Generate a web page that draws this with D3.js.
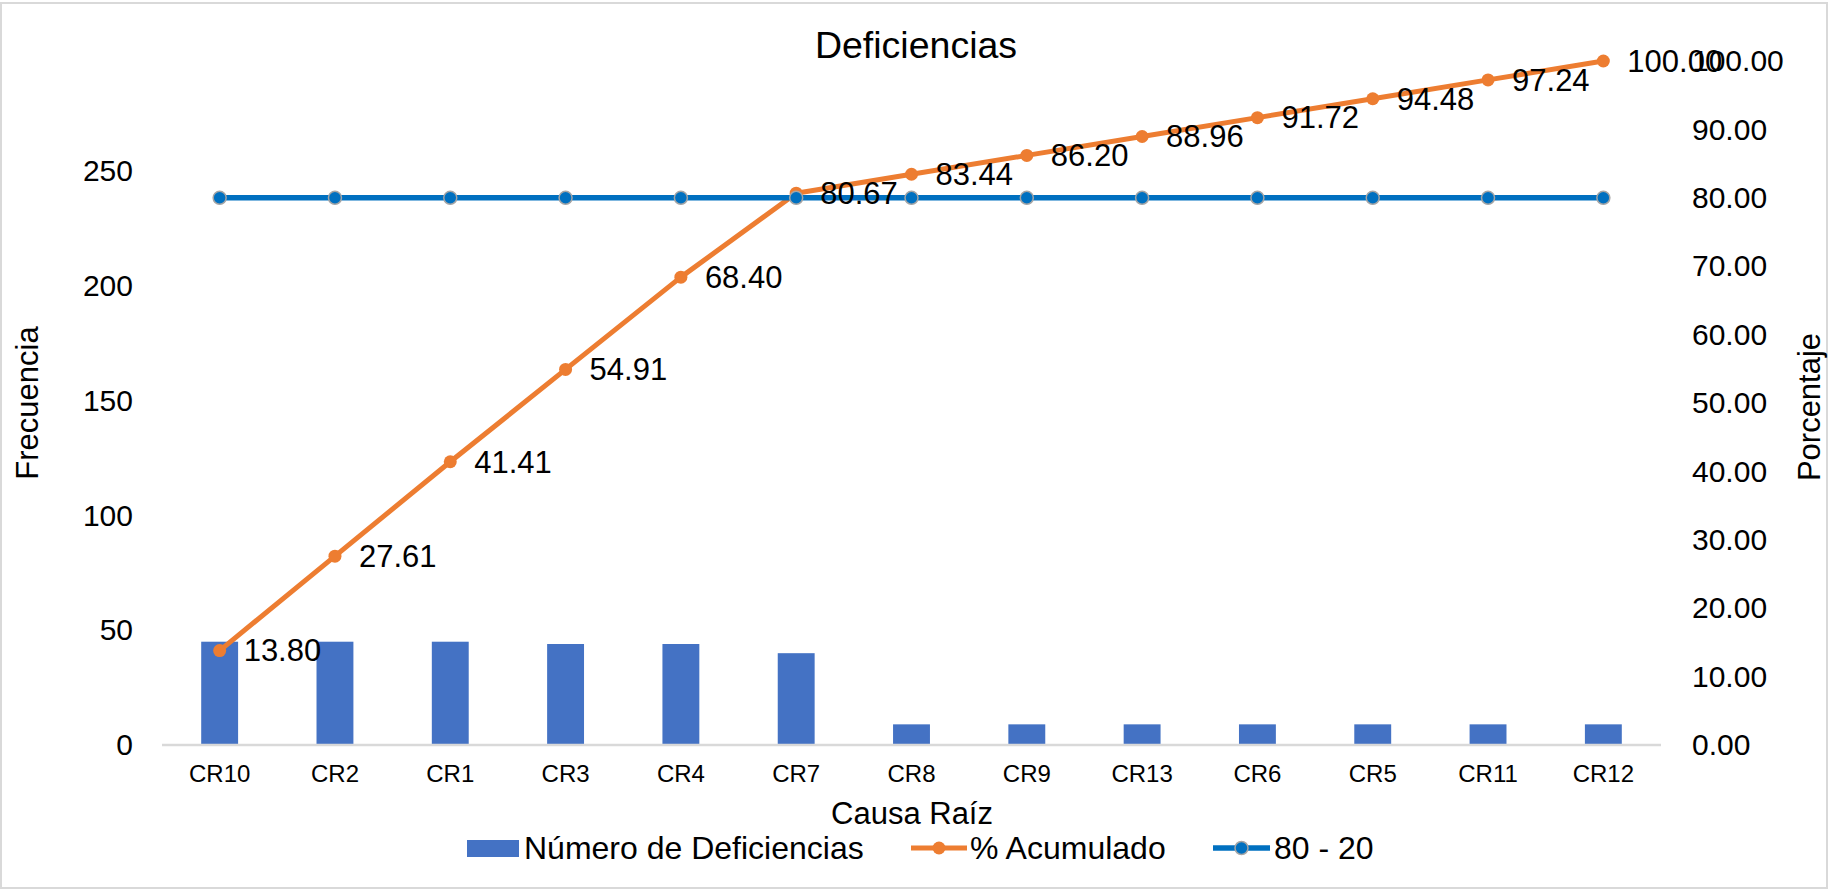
<!DOCTYPE html>
<html>
<head>
<meta charset="utf-8">
<script src="https://cdn.jsdelivr.net/npm/d3@7"></script>
<style>
  html, body { margin: 0; padding: 0; background: #fff; }
  svg { display: block; font-family: "Liberation Sans", Arial, sans-serif; }
</style>
</head>
<body>
<svg id="chart" width="1829" height="890"></svg>
<script>
// Pareto data: root causes sorted by number of deficiencies
const categories = ["CR10", "CR2", "CR1", "CR3", "CR4", "CR7", "CR8", "CR9", "CR13", "CR6", "CR5", "CR11", "CR12"];
const deficiencias = [45, 45, 45, 44, 44, 40, 9, 9, 9, 9, 9, 9, 9];
const acumulado = [13.80, 27.61, 41.41, 54.91, 68.40, 80.67, 83.44, 86.20, 88.96, 91.72, 94.48, 97.24, 100.00];
const linea8020 = [80, 80, 80, 80, 80, 80, 80, 80, 80, 80, 80, 80, 80];
const leftTicks = [0, 50, 100, 150, 200, 250];
const rightTicks = [0, 10, 20, 30, 40, 50, 60, 70, 80, 90, 100];

const svg = d3.select("#chart");
const W = 1829, H = 890;
const plot = { left: 162, right: 1661, top: 61, bottom: 745 };

const colors = { bar: "#4472C4", cum: "#ED7D31", ref: "#0070C0", refEdge: "#A5A5A5", axis: "#D9D9D9" };

// Chart frame
svg.append("rect")
  .attr("x", 1).attr("y", 3).attr("width", W - 3).attr("height", H - 5)
  .attr("fill", "#fff").attr("stroke", colors.axis).attr("stroke-width", 2);

const x = d3.scaleBand().domain(categories).range([plot.left, plot.right]).paddingInner(0.68).paddingOuter(0.34);
const xc = d => x(d) + x.bandwidth() / 2;
const yL = d3.scaleLinear().domain([0, 298]).range([plot.bottom, plot.top]);
const yR = d3.scaleLinear().domain([0, 100]).range([plot.bottom, plot.top]);

// Title
svg.append("text").attr("x", 916).attr("y", 58).attr("text-anchor", "middle")
  .attr("font-size", 37.5).attr("fill", "#000").text("Deficiencias");

// Bars
svg.append("g").selectAll("rect").data(categories).join("rect")
  .attr("x", d => x(d))
  .attr("width", x.bandwidth())
  .attr("y", (d, i) => yL(deficiencias[i]))
  .attr("height", (d, i) => yL(0) - yL(deficiencias[i]))
  .attr("fill", colors.bar);

// Category axis
const gx = svg.append("g").attr("transform", `translate(0,${plot.bottom})`)
  .call(d3.axisBottom(x).tickSize(0).tickPadding(0));
gx.select(".domain").remove();
gx.append("line").attr("x1", plot.left).attr("x2", plot.right).attr("y1", 0).attr("y2", 0)
  .attr("stroke", colors.axis).attr("stroke-width", 2.5);
gx.selectAll(".tick text").attr("font-size", 24).attr("fill", "#000")
  .attr("font-family", "'Liberation Sans', Arial, sans-serif")
  .attr("dy", null).attr("y", 37);

// Left axis (Frecuencia)
const gl = svg.append("g").attr("transform", `translate(${plot.left},0)`)
  .call(d3.axisLeft(yL).tickValues(leftTicks).tickSize(0).tickPadding(29));
gl.select(".domain").remove();
gl.selectAll(".tick text").attr("font-size", 30).attr("fill", "#000")
  .attr("font-family", "'Liberation Sans', Arial, sans-serif");

// Right axis (Porcentaje)
const gr = svg.append("g").attr("transform", `translate(${plot.right},0)`)
  .call(d3.axisRight(yR).tickValues(rightTicks).tickFormat(d3.format(".2f")).tickSize(0).tickPadding(31));
gr.select(".domain").remove();
gr.selectAll(".tick text").attr("font-size", 30).attr("fill", "#000")
  .attr("font-family", "'Liberation Sans', Arial, sans-serif");

// Axis titles
svg.append("text").attr("transform", "translate(38,403) rotate(-90)")
  .attr("text-anchor", "middle").attr("font-size", 31).attr("fill", "#000").text("Frecuencia");
svg.append("text").attr("transform", "translate(1820,407) rotate(-90)")
  .attr("text-anchor", "middle").attr("font-size", 31).attr("fill", "#000").text("Porcentaje");
svg.append("text").attr("x", 912).attr("y", 824).attr("text-anchor", "middle")
  .attr("font-size", 31).attr("fill", "#000").text("Causa Raíz");

// Cumulative percentage line
const lineCum = d3.line().x((d, i) => xc(categories[i])).y(d => yR(d));
svg.append("path").datum(acumulado).attr("d", lineCum)
  .attr("fill", "none").attr("stroke", colors.cum).attr("stroke-width", 5).attr("stroke-linejoin", "round");
svg.append("g").selectAll("circle").data(acumulado).join("circle")
  .attr("cx", (d, i) => xc(categories[i])).attr("cy", d => yR(d)).attr("r", 6.5)
  .attr("fill", colors.cum);

// 80 - 20 reference line
const lineRef = d3.line().x((d, i) => xc(categories[i])).y(d => yR(d));
svg.append("path").datum(linea8020).attr("d", lineRef)
  .attr("fill", "none").attr("stroke", colors.ref).attr("stroke-width", 5.5);
svg.append("g").selectAll("circle").data(linea8020).join("circle")
  .attr("cx", (d, i) => xc(categories[i])).attr("cy", d => yR(d)).attr("r", 6.5)
  .attr("fill", colors.ref).attr("stroke", colors.refEdge).attr("stroke-width", 1.5);

// Data labels for cumulative percentage
svg.append("g").selectAll("text").data(acumulado).join("text")
  .attr("x", (d, i) => xc(categories[i]) + 24).attr("y", d => yR(d))
  .attr("dy", "0.35em").attr("font-size", 31).attr("fill", "#000")
  .text(d => d3.format(".2f")(d));

// Legend
const lg = svg.append("g");
lg.append("rect").attr("x", 467).attr("y", 840).attr("width", 52).attr("height", 17).attr("fill", colors.bar);
lg.append("text").attr("x", 524).attr("y", 859).attr("font-size", 32).attr("fill", "#000").text("Número de Deficiencias");

lg.append("line").attr("x1", 911).attr("x2", 967).attr("y1", 848).attr("y2", 848)
  .attr("stroke", colors.cum).attr("stroke-width", 5);
lg.append("circle").attr("cx", 939).attr("cy", 848).attr("r", 6.5).attr("fill", colors.cum);
lg.append("text").attr("x", 970).attr("y", 859).attr("font-size", 32).attr("fill", "#000").text("% Acumulado");

lg.append("line").attr("x1", 1213).attr("x2", 1270).attr("y1", 848).attr("y2", 848)
  .attr("stroke", colors.ref).attr("stroke-width", 5.5);
lg.append("circle").attr("cx", 1241.5).attr("cy", 848).attr("r", 6.5)
  .attr("fill", colors.ref).attr("stroke", colors.refEdge).attr("stroke-width", 1.5);
lg.append("text").attr("x", 1274).attr("y", 859).attr("font-size", 32).attr("fill", "#000").text("80 - 20");
</script>
</body>
</html>
